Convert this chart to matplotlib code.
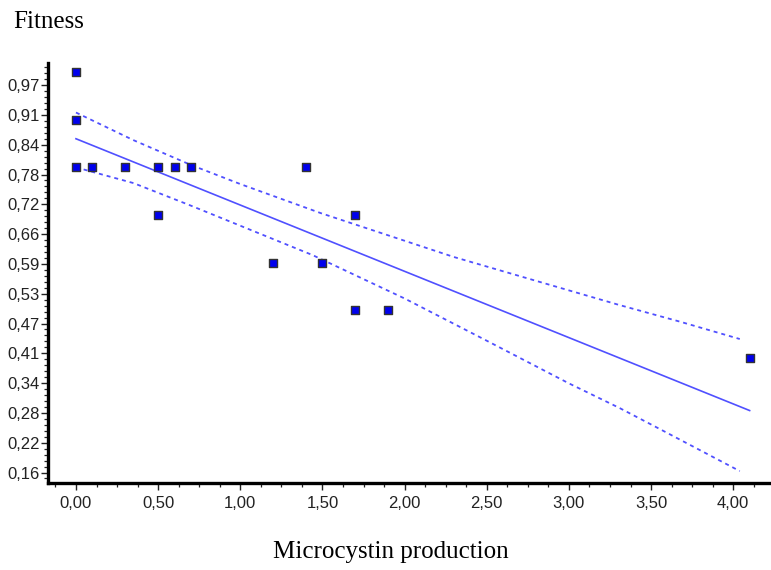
import numpy as np
import matplotlib
matplotlib.use("Agg")
import matplotlib.pyplot as plt
from matplotlib.ticker import AutoMinorLocator, FuncFormatter

# observed points
x_pts = [0.0, 0.0, 0.0, 0.1, 0.3, 0.5, 0.6, 0.7, 0.5, 1.2, 1.4, 1.5, 1.7, 1.7, 1.9, 4.1]
y_pts = [1.0, 0.9, 0.8, 0.8, 0.8, 0.8, 0.8, 0.8, 0.7, 0.6, 0.8, 0.6, 0.7, 0.5, 0.5, 0.4]

# regression line
fit_x = [0.0, 4.1]
fit_y = [0.86, 0.29]

# confidence band
upper_x = [0.0, 0.35, 0.7, 1.0, 1.49, 2.30, 2.95, 3.30, 3.68, 4.04]
upper_y = [0.915, 0.857, 0.805, 0.765, 0.704, 0.612, 0.547, 0.512, 0.476, 0.440]
lower_x = [0.0, 0.35, 0.69, 1.44, 2.0, 2.48, 3.0, 3.31, 3.56, 4.04]
lower_y = [0.800, 0.767, 0.721, 0.616, 0.525, 0.440, 0.347, 0.295, 0.250, 0.163]

y_tick_labels = ['0,16', '0,22', '0,28', '0,34', '0,41', '0,47', '0,53',
                 '0,59', '0,66', '0,72', '0,78', '0,84', '0,91', '0,97']
y_tick_pos = 0.16 + 0.0625 * np.arange(len(y_tick_labels))

LINE = '#5050ff'

fig = plt.figure(figsize=(7.71, 5.70), dpi=100)
ax = fig.add_axes([0.0623, 0.1526, 0.9377, 0.737])

ax.plot(fit_x, fit_y, color=LINE, lw=1.2)
ax.plot(upper_x, upper_y, color=LINE, lw=1.3, ls=(0, (2.2, 2.2)))
ax.plot(lower_x, lower_y, color=LINE, lw=1.3, ls=(0, (2.2, 2.2)))
ax.scatter(x_pts, y_pts, marker='s', s=36, color='#0000ee',
           edgecolors='#333333', linewidths=1.0, zorder=3)

ax.set_xlim(-0.17, 4.23)
ax.set_ylim(0.138, 1.019)

ax.set_xticks(np.arange(0, 4.01, 0.5))
ax.xaxis.set_major_formatter(FuncFormatter(lambda v, p: f"{v:.2f}".replace('.', ',')))
ax.xaxis.set_minor_locator(AutoMinorLocator(4))
ax.set_yticks(y_tick_pos)
ax.set_yticklabels(y_tick_labels)
ax.yaxis.set_minor_locator(AutoMinorLocator(5))

for s in ['top', 'right']:
    ax.spines[s].set_visible(False)
for s in ['left', 'bottom']:
    ax.spines[s].set_linewidth(2.4)

ax.tick_params(which='major', length=5, width=1.0, labelsize=12, color='#222222')
ax.tick_params(axis='y', which='major', pad=1)
ax.tick_params(axis='x', which='major', pad=4)
ax.tick_params(which='minor', length=3, width=0.9, color='#222222')
for lab in ax.get_xticklabels() + ax.get_yticklabels():
    lab.set_fontfamily('Liberation Sans')
    lab.set_color('#222222')

fig.text(0.017, 0.962, 'Fitness', fontsize=18, family='Liberation Serif',
         ha='left', va='center')
fig.text(0.507, 0.032, 'Microcystin production', fontsize=18,
         family='Liberation Serif', ha='center', va='center')

fig.savefig('out.png', dpi=100)
